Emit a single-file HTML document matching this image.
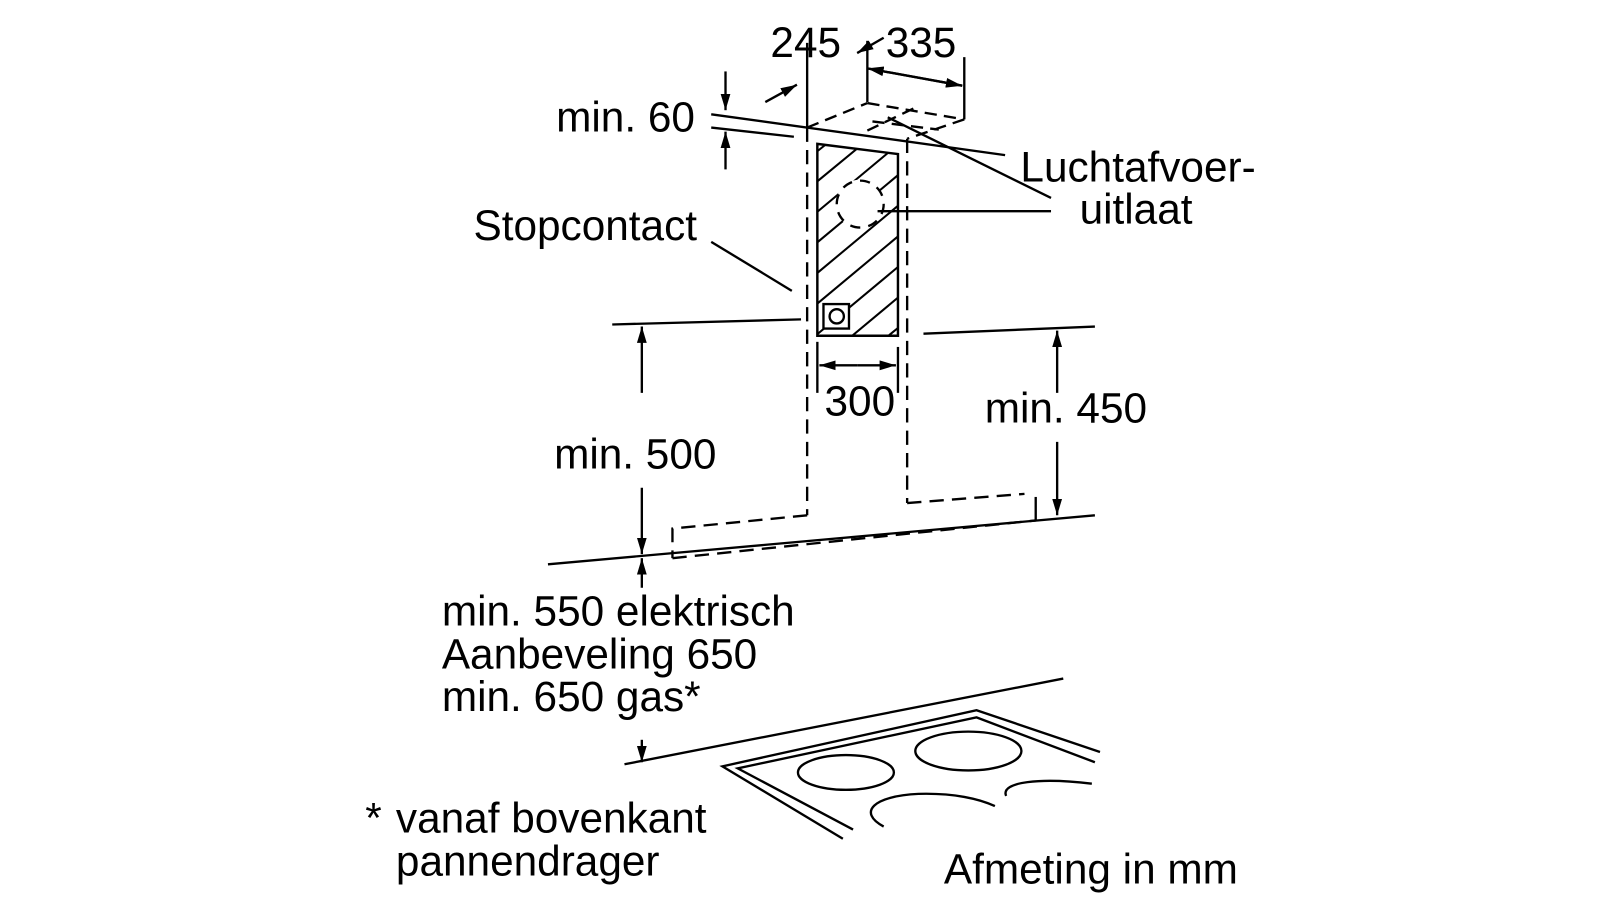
<!DOCTYPE html>
<html><head><meta charset="utf-8"><style>
html,body{margin:0;padding:0;background:#fff;width:1600px;height:900px;overflow:hidden}
svg text{font-family:"Liberation Sans",Arial,sans-serif;font-size:41.5px;fill:#000}
</style></head><body>
<svg width="1600" height="900" viewBox="0 0 1568 882" xmlns="http://www.w3.org/2000/svg">
<defs>
<marker id="b" viewBox="0 0 10 10" refX="10" refY="5" markerWidth="16" markerHeight="16" markerUnits="userSpaceOnUse" orient="auto"><path d="M0,2 L10,5 L0,8 z" fill="#000"/></marker>
<clipPath id="c"><polygon points="801,141 880,151 880,329 801,329"/></clipPath>
</defs>
<g stroke="#000" stroke-width="2.3" fill="none">
<line x1="697" y1="112" x2="985" y2="152"/>
<line x1="697" y1="125" x2="778" y2="134"/>
<line x1="711" y1="70" x2="711" y2="108" marker-end="url(#b)"/>
<line x1="711" y1="166" x2="711" y2="129" marker-end="url(#b)"/>
<line x1="791" y1="42" x2="791" y2="124"/>
<line x1="750" y1="100" x2="781" y2="83" marker-end="url(#b)"/>
<line x1="850" y1="40" x2="850" y2="100"/>
<line x1="866" y1="37" x2="840" y2="52" marker-end="url(#b)"/>
<line x1="943" y1="84" x2="850" y2="67" marker-end="url(#b)"/>
<line x1="850" y1="67" x2="943" y2="84" marker-end="url(#b)"/>
<line x1="945" y1="56" x2="945" y2="117"/>
<g stroke-dasharray="12,7">
<line x1="791" y1="125" x2="850" y2="101"/>
<line x1="850" y1="101" x2="945" y2="117"/>
<line x1="945" y1="117" x2="889" y2="136"/>
<line x1="855" y1="119" x2="920" y2="127"/>
<line x1="850" y1="128" x2="900" y2="104"/>
</g>
<line x1="870" y1="115" x2="1030" y2="194"/>
<line x1="791" y1="125" x2="791" y2="505" stroke-dasharray="14,8"/>
<line x1="889" y1="136" x2="889" y2="493" stroke-dasharray="14,8"/>
<g clip-path="url(#c)" stroke-width="2">
<line x1="780" y1="165" x2="830" y2="125"/>
<line x1="780" y1="195" x2="865" y2="125"/>
<line x1="780" y1="225" x2="900" y2="125"/>
<line x1="780" y1="255" x2="900" y2="155"/>
<line x1="780" y1="285" x2="900" y2="185"/>
<line x1="780" y1="315" x2="900" y2="215"/>
<line x1="780" y1="345" x2="900" y2="245"/>
<line x1="810" y1="350" x2="900" y2="275"/>
<line x1="845" y1="350" x2="900" y2="305"/>
</g>
<circle cx="843" cy="200" r="24" fill="#fff" stroke="none"/>
<circle cx="843" cy="200" r="23" stroke-dasharray="10,8"/>
<polygon points="801,141 880,151 880,329 801,329" stroke-width="2.4"/>
<rect x="807" y="298" width="25" height="24" fill="#fff"/>
<circle cx="820" cy="310" r="7"/>
<line x1="860" y1="207" x2="1030" y2="207"/>
<line x1="697" y1="237" x2="776" y2="285"/>
<line x1="600" y1="318" x2="785" y2="313"/>
<line x1="905" y1="327" x2="1073" y2="320"/>
<line x1="801" y1="335" x2="801" y2="385"/>
<line x1="880" y1="340" x2="880" y2="385"/>
<line x1="840" y1="358" x2="803" y2="358" marker-end="url(#b)"/>
<line x1="840" y1="358" x2="878" y2="358" marker-end="url(#b)"/>
<line x1="629" y1="385" x2="629" y2="320" marker-end="url(#b)"/>
<line x1="629" y1="478" x2="629" y2="543" marker-end="url(#b)"/>
<line x1="1036" y1="385" x2="1036" y2="324" marker-end="url(#b)"/>
<line x1="1036" y1="433" x2="1036" y2="505" marker-end="url(#b)"/>
<g stroke-dasharray="14,8">
<polyline points="791,505 659,518 659,547"/>
<line x1="659" y1="547" x2="1015" y2="510"/>
<polyline points="889,493 1004,484"/>
</g>
<line x1="1015" y1="487" x2="1015" y2="510"/>
<line x1="537" y1="553" x2="1073" y2="505"/>
<line x1="629" y1="576" x2="629" y2="547" marker-end="url(#b)"/>
<line x1="629" y1="725" x2="629" y2="747" marker-end="url(#b)"/>
<line x1="612" y1="749" x2="1042" y2="665"/>
<polyline points="826,822 708,751 957,696 1078,737"/>
<polyline points="836,813 723,753 957,703 1073,747"/>
<ellipse cx="829" cy="757" rx="47" ry="17"/>
<ellipse cx="949" cy="736" rx="52" ry="19"/>
<path d="M866,810 C840,796 856,780 900,778 C935,777 960,783 975,790"/>
<path d="M986,780 C980,766 1020,762 1070,768"/>
</g>
<g>
<text x="755" y="56">245</text>
<text x="868" y="56">335</text>
<text x="545" y="129">min. 60</text>
<text x="1000" y="178">Luchtafvoer-</text>
<text x="1058" y="219">uitlaat</text>
<text x="464" y="235">Stopcontact</text>
<text x="808" y="407">300</text>
<text x="965" y="414">min. 450</text>
<text x="543" y="459">min. 500</text>
<text x="433" y="613">min. 550 elektrisch</text>
<text x="433" y="655">Aanbeveling 650</text>
<text x="433" y="697">min. 650 gas*</text>
<text x="358" y="816">*</text>
<text x="388" y="816">vanaf bovenkant</text>
<text x="388" y="858">pannendrager</text>
<text x="925" y="866">Afmeting in mm</text>
</g>
</svg>
</body></html>
